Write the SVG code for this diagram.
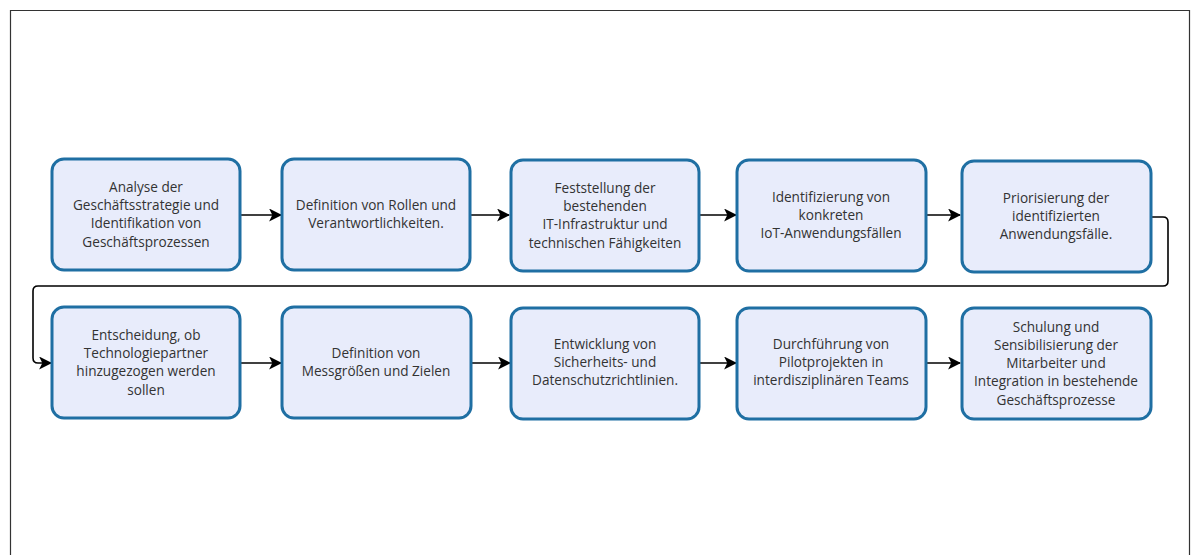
<svg xmlns="http://www.w3.org/2000/svg" width="1196" height="555" viewBox="0 0 1196 555">
<style>
.box{fill:#e8ecfb;stroke:#1f6fa3;stroke-width:3}
.t{font-family:"Open Sans","Noto Sans",sans-serif;font-size:13.6px;fill:#333;text-anchor:middle}
.c{fill:none;stroke:#000;stroke-width:1.6}
</style>
<defs>
<marker id="ah" viewBox="0 0 12 12" refX="11" refY="6" markerWidth="13" markerHeight="13" markerUnits="userSpaceOnUse" orient="auto">
<path d="M0,0 L12,6 L0,12 L3,6 Z" fill="#000"/>
</marker>
</defs>
<rect x="0" y="0" width="1196" height="555" fill="#fff"/>
<path d="M10.5,560 V10.5 H1189.5 V560" fill="none" stroke="#333" stroke-width="1.2"/>
<g id="connectors">
<path class="c" d="M240,215 H281" marker-end="url(#ah)"/>
<path class="c" d="M470,215 H509" marker-end="url(#ah)"/>
<path class="c" d="M699,215 H736" marker-end="url(#ah)"/>
<path class="c" d="M926,215 H960" marker-end="url(#ah)"/>
<path class="c" d="M1151,217 H1163 Q1168,217 1168,222 V281 Q1168,286 1163,286 H38 Q33,286 33,291 V358 Q33,363 38,363 H51" marker-end="url(#ah)"/>
<path class="c" d="M240,363 H281" marker-end="url(#ah)"/>
<path class="c" d="M472,363 H510" marker-end="url(#ah)"/>
<path class="c" d="M699,363 H736" marker-end="url(#ah)"/>
<path class="c" d="M926,363 H960" marker-end="url(#ah)"/>
</g>
<g id="n1"><rect class="box" x="52" y="159" width="188" height="111" rx="12"/>
<text class="t" x="146" y="192">Analyse der</text><text class="t" x="146" y="210">Geschäftsstrategie und</text><text class="t" x="146" y="228">Identifikation von</text><text class="t" x="146" y="247">Geschäftsprozessen</text></g>
<g id="n2"><rect class="box" x="282" y="159" width="188" height="111" rx="12"/>
<text class="t" x="376" y="210">Definition von Rollen und</text><text class="t" x="376" y="228">Verantwortlichkeiten.</text></g>
<g id="n3"><rect class="box" x="511" y="160" width="188" height="111" rx="12"/>
<text class="t" x="605" y="193">Feststellung der</text><text class="t" x="605" y="211">bestehenden</text><text class="t" x="605" y="229">IT-Infrastruktur und</text><text class="t" x="605" y="248">technischen Fähigkeiten</text></g>
<g id="n4"><rect class="box" x="737" y="160" width="189" height="111" rx="12"/>
<text class="t" x="831" y="202">Identifizierung von</text><text class="t" x="831" y="220">konkreten</text><text class="t" x="831" y="238">IoT-Anwendungsfällen</text></g>
<g id="n5"><rect class="box" x="962" y="161" width="189" height="111" rx="12"/>
<text class="t" x="1056" y="203">Priorisierung der</text><text class="t" x="1056" y="221">identifizierten</text><text class="t" x="1056" y="239">Anwendungsfälle.</text></g>
<g id="n6"><rect class="box" x="52" y="307" width="188" height="111" rx="12"/>
<text class="t" x="146" y="340">Entscheidung, ob</text><text class="t" x="146" y="358">Technologiepartner</text><text class="t" x="146" y="376">hinzugezogen werden</text><text class="t" x="146" y="395">sollen</text></g>
<g id="n7"><rect class="box" x="282" y="307" width="189" height="111" rx="12"/>
<text class="t" x="376" y="358">Definition von</text><text class="t" x="376" y="376">Messgrößen und Zielen</text></g>
<g id="n8"><rect class="box" x="511" y="308" width="188" height="111" rx="12"/>
<text class="t" x="605" y="349">Entwicklung von</text><text class="t" x="605" y="367">Sicherheits- und</text><text class="t" x="605" y="385">Datenschutzrichtlinien.</text></g>
<g id="n9"><rect class="box" x="737" y="308" width="189" height="111" rx="12"/>
<text class="t" x="831" y="349">Durchführung von</text><text class="t" x="831" y="367">Pilotprojekten in</text><text class="t" x="831" y="385">interdisziplinären Teams</text></g>
<g id="n10"><rect class="box" x="962" y="308" width="189" height="111" rx="12"/>
<text class="t" x="1056" y="332">Schulung und</text><text class="t" x="1056" y="350">Sensibilisierung der</text><text class="t" x="1056" y="368">Mitarbeiter und</text><text class="t" x="1056" y="386">Integration in bestehende</text><text class="t" x="1056" y="405">Geschäftsprozesse</text></g>
</svg>
